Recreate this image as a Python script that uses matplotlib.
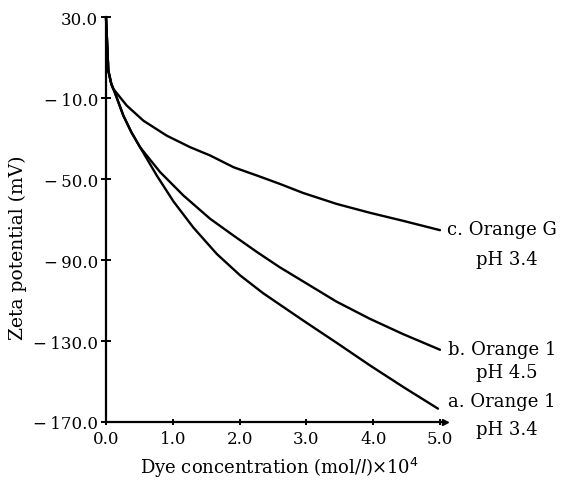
import matplotlib
matplotlib.use("Agg")
import matplotlib.pyplot as plt

# Data
conc_c = [0, 0.035, 0.08, 0.11, 0.31, 0.56, 0.91, 1.26, 1.56, 1.91, 2.26, 2.60, 2.95, 3.45, 3.95, 4.45, 5.0]
zeta_c = [30, 3.6, -3, -5.4, -13.6, -21.1, -28.5, -34.2, -38.3, -44.1, -48.2, -52.3, -56.8, -62.2, -66.6, -70.6, -75.2]

conc_b = [0, 0.035, 0.08, 0.13, 0.26, 0.38, 0.51, 0.81, 1.16, 1.56, 1.91, 2.26, 2.60, 2.95, 3.45, 3.95, 4.45, 5.0]
zeta_b = [30, 3.6, -3, -7, -18.6, -26.8, -34.2, -46.5, -58.1, -69.6, -77.9, -86.0, -93.5, -100.5, -110.5, -119.0, -126.6, -134.3]

conc_a = [0, 0.035, 0.08, 0.13, 0.26, 0.38, 0.51, 0.76, 1.01, 1.31, 1.66, 2.01, 2.35, 2.95, 3.45, 3.95, 4.45, 4.97]
zeta_a = [30, 3.6, -3, -7, -18.6, -26.8, -34.2, -48.2, -61.0, -74.0, -87.0, -97.6, -106.3, -119.8, -130.8, -142.0, -152.7, -163.4]

xticks = [0, 1, 2, 3, 4, 5]
xticklabels = ["0.0", "1.0", "2.0", "3.0", "4.0", "5.0"]
yticks = [30, -10, -50, -90, -130, -170]
yticklabels = ["30.0", "\u2212\u200910.0", "\u2212\u200950.0", "\u2212\u200990.0",
               "\u2212\u2009130.0", "\u2212\u2009170.0"]

labels_top = ["c. Orange G", "b. Orange 1", "a. Orange 1"]
labels_bot = ["pH 3.4", "pH 4.5", "pH 3.4"]

plt.rcParams["font.family"] = ["DejaVu Serif"]
fig = plt.figure(figsize=(5.62, 4.85), dpi=100)
ax = fig.add_axes([106 / 562, 1 - 423 / 485, (440 - 106) / 562, (423 - 18.3) / 485])

for xs, ys in [(conc_c, zeta_c), (conc_b, zeta_b), (conc_a, zeta_a)]:
    ax.plot(xs, ys, color="black", lw=1.7, solid_joinstyle="round",
            solid_capstyle="round", clip_on=False)

ax.set_xlim(0, 5)
ax.set_ylim(-170, 30)
for s in ["top", "right"]:
    ax.spines[s].set_visible(False)
for s in ["left", "bottom"]:
    ax.spines[s].set_linewidth(1.6)
ax.spines["bottom"].set_bounds(0, 5.07)

# arrowhead at the end of the x axis
ax.plot([5.07], [-170], marker=">", color="black", markersize=5, clip_on=False)

ax.set_xticks(xticks)
ax.set_xticklabels(xticklabels, fontsize=12)
ax.set_yticks(yticks)
ax.set_yticklabels(yticklabels, fontsize=12)
ax.tick_params(axis="y", direction="inout", length=7, width=1.4, pad=2)
ax.tick_params(axis="x", direction="inout", length=4, width=1.4, pad=4)

ax.set_xlabel("Dye concentration (mol/$\\mathit{l}$)\u00d710$^4$", fontsize=13)
ax.xaxis.set_label_coords(0.52, -0.082)
ax.set_ylabel("Zeta potential (mV)", fontsize=13.5)
ax.yaxis.set_label_coords(-0.237, 0.432)

# curve labels: (first-line y, second-line y) in data units
label_y = [(-74.5, -89.4), (-133.8, -145.2), (-159.5, -173.3)]
for top, bot, (y1, y2) in zip(labels_top, labels_bot, label_y):
    ax.text(5.93, y1, top, fontsize=13, ha="center", va="center", clip_on=False)
    ax.text(6.0, y2, bot, fontsize=13, ha="center", va="center", clip_on=False)

fig.savefig("out.png", dpi=100)
